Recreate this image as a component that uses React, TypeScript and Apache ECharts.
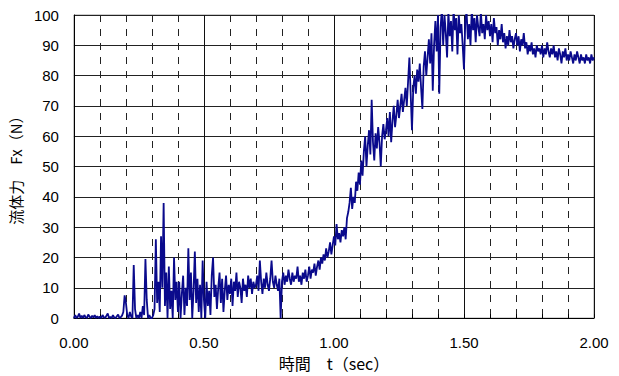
import React, { useEffect, useRef } from "react";
import * as echarts from "echarts";

// sampling step of the force record (sec)
const T_STEP = 0.005;

// Fx (N), 20 samples per 0.1 s
const force_00_05 = [
  0, 1, 0, 0.5, 1.5, 0, 0.8, 0, 1, 0.3, 0, 1.2, 0.5, 0, 0.8, 0.2, 1, 0, 0.6, 0,
  0.5, 0, 1, 0.3, 0, 0.8, 1.5, 0, 0.4, 0, 1, 0.2, 0, 0.6, 1.2, 0, 0.3, 0.8, 2, 7.5,
  5, 1, 0, 2, 0.5, 0, 17.5, 3, 0, 1, 0, 2, 0, 4, 1, 19.5, 6, 0, 1, 0,
  0, 1, 3, 26, 5, 12, 2, 27, 10, 38, 4, 15, 0, 17, 3, 9, 0, 20, 6, 12,
  2, 12, 0, 8, 14, 1, 10, 4, 23, 6, 15, 0, 9, 22, 5, 13, 2, 11, 0, 19,
];
const force_05_10 = [
  6, 0, 12, 4, 9, 1, 14, 20, 7, 11, 3, 10, 15, 5, 13, 2, 9, 14, 6, 11,
  8, 13, 4, 12, 9, 15, 7, 12, 10, 5, 13, 9, 11, 7, 14, 10, 13, 8, 12, 10,
  11, 14, 9, 19, 12, 8, 13, 10, 15, 11, 9, 13, 19, 12, 10, 14, 11, 9, 13, 0,
  12, 15, 11, 14, 12, 16, 13, 11, 15, 12, 14, 13, 17, 12, 14, 11, 15, 13, 16, 12,
  14, 17, 13, 16, 15, 18, 14, 17, 19, 16, 20, 18, 21, 19, 23, 20, 22, 25, 21, 24,
];
const force_10_15 = [
  27, 24, 31, 26, 28, 25, 29, 27, 30, 26, 33, 35, 38, 43, 36, 40, 38, 45, 42, 48,
  44, 52, 47, 55, 60, 50, 57, 62, 54, 72, 58, 52, 61, 56, 63, 58, 50, 60, 64, 59,
  62, 66, 60, 68, 58, 65, 70, 63, 67, 72, 66, 70, 74, 68, 72, 76, 70, 78, 86, 74,
  62, 76, 80, 74, 82, 78, 84, 76, 69, 83, 88, 80, 86, 92, 84, 94, 75, 90, 98, 88,
  100, 74, 96, 102, 90, 100, 94, 86, 101, 93, 98, 88, 102, 95, 99, 87, 100, 94, 97, 90,
];
const force_15_20 = [
  82, 98, 101, 92, 97, 90, 102, 95, 99, 91, 100, 96, 93, 101, 94, 97, 92, 100, 95, 98,
  93, 97, 91, 99, 94, 96, 90, 95, 92, 97, 91, 94, 89, 93, 90, 95, 91, 93, 89, 92,
  94, 90, 93, 88, 92, 90, 94, 89, 91, 87, 90, 88, 91, 87, 89, 86, 90, 88, 89, 87,
  90, 86, 89, 87, 91, 88, 86, 89, 87, 90, 86, 88, 85, 89, 87, 84, 88, 86, 89, 85,
  87, 85, 88, 86, 84, 87, 85, 88, 86, 84, 87, 85, 86, 84, 87, 85, 86, 84, 87, 85,
  86,
];

const X_MIN = 0;
const X_MAX = 2;
const Y_MIN = 0;
const Y_MAX = 100;
const X_LABELS = [0, 0.5, 1, 1.5, 2];

export default function App() {
  const ref = useRef<HTMLDivElement>(null);

  useEffect(() => {
    if (!ref.current) return;
    const chart = echarts.init(ref.current, undefined, { renderer: "svg" });
    const values = [...force_00_05, ...force_05_10, ...force_10_15, ...force_15_20];
    const data = values.map((v, i) => [+(i * T_STEP).toFixed(3), v]);

    const isLabel = (v: number) => X_LABELS.some((l) => Math.abs(l - v) < 1e-6);

    chart.setOption({
      animation: false,
      backgroundColor: "#ffffff",
      grid: {
        left: 72,
        right: 25,
        top: 15,
        bottom: 51,
        show: true,
        borderColor: "#9a9a9a",
        borderWidth: 1,
      },
      xAxis: [
        {
          type: "value",
          min: X_MIN,
          max: X_MAX,
          interval: 0.1,
          axisLine: { show: true, onZero: false, lineStyle: { color: "#000", width: 1 } },
          axisTick: { show: true, inside: true, length: 4, lineStyle: { color: "#000" } },
          axisLabel: {
            margin: 17,
            color: "#000",
            fontSize: 15,
            fontFamily: "Liberation Sans",
            formatter: (v: number) => (isLabel(v) ? v.toFixed(2) : ""),
          },
          splitLine: {
            show: true,
            lineStyle: { color: "#222", width: 1, type: [7, 7] },
          },
          name: "時間　t（sec）",
          nameLocation: "middle",
          nameGap: 33,
          nameTextStyle: { color: "#000", fontSize: 16, fontFamily: "Noto Sans CJK JP" },
        },
        {
          type: "value",
          min: X_MIN,
          max: X_MAX,
          interval: 0.5,
          position: "bottom",
          axisLine: { show: false },
          axisTick: { show: false },
          axisLabel: { show: false },
          splitLine: { show: true, lineStyle: { color: "#111", width: 1, type: "solid" } },
        },
      ],
      yAxis: {
        type: "value",
        min: Y_MIN,
        max: Y_MAX,
        interval: 10,
        axisLine: { show: true, onZero: false, lineStyle: { color: "#000", width: 1 } },
        axisTick: { show: false },
        axisLabel: { margin: 15, color: "#000", fontSize: 15, fontFamily: "Liberation Sans" },
        splitLine: { show: true, lineStyle: { color: "#222", width: 1 } },
        name: "流体力　Fx（N）",
        nameLocation: "middle",
        nameRotate: 90,
        nameGap: 47,
        nameTextStyle: { color: "#000", fontSize: 15, fontFamily: "Noto Sans CJK JP" },
      },
      series: [
        {
          type: "line",
          xAxisIndex: 0,
          data,
          showSymbol: false,
          symbol: "none",
          clip: true,
          lineStyle: { color: "#0a0a8c", width: 1.8 },
          z: 5,
        },
      ],
    });
    return () => chart.dispose();
  }, []);

  return <div ref={ref} style={{ width: 619, height: 376, position: "absolute", left: 0, top: 0 }} />;
}
